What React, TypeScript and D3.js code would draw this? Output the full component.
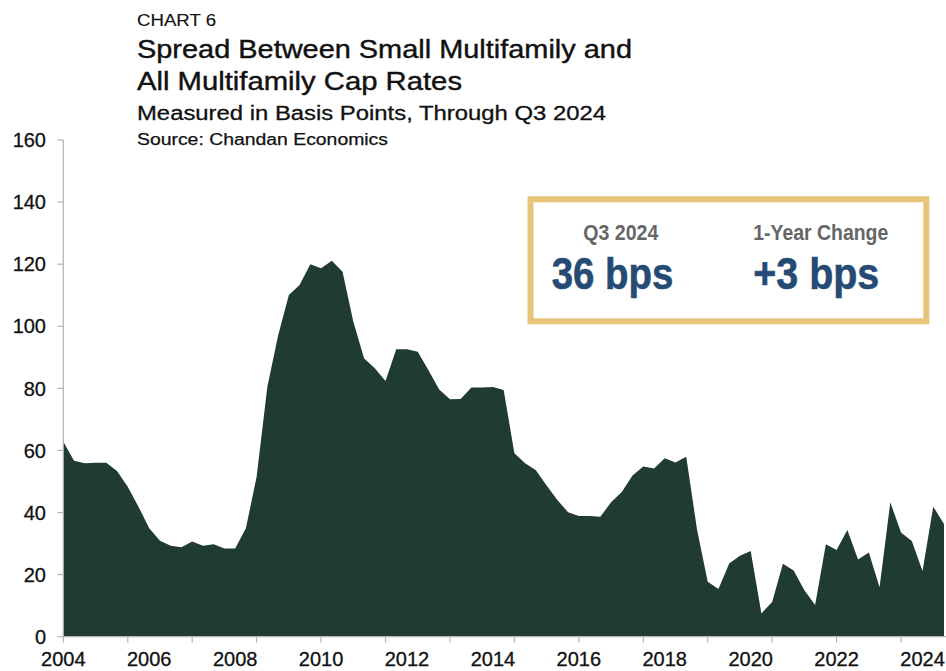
import React from "react";
import * as d3 from "d3";

const startYear = 2004;
const spreadBps: number[] = [
  62.8, 56.7, 55.9, 56, 56, 53.4, 48.3, 41.9, 34.9, 30.9,
  29.3, 28.8, 30.7, 29.3, 29.8, 28.4, 28.4, 34.9, 51.5, 80.5,
  97, 110.1, 113.3, 120, 118.7, 121.1, 117.6, 101.5, 89.7, 86.5,
  82.4, 92.6, 92.6, 91.8, 85.8, 79.6, 76.5, 76.6, 80.3, 80.3,
  80.4, 79.5, 59.1, 55.9, 53.6, 48.7, 44, 40.1, 38.9, 38.9,
  38.6, 43.3, 46.6, 51.9, 54.8, 54.2, 57.5, 56.1, 58.0, 34.6,
  17.7, 15.4, 23.6, 26.1, 27.6, 7.5, 11.2, 23.5, 21.3, 15.0,
  10.2, 29.8, 27.9, 34.4, 24.9, 27.1, 15.9, 43.3, 33.6, 30.8,
  21.2, 41.9, 36.3,
];
const yTicks = [0, 20, 40, 60, 80, 100, 120, 140, 160];
const yearLabels = [2004, 2006, 2008, 2010, 2012, 2014, 2016, 2018, 2020, 2022, 2024];
const tickEveryQuarters = 6;

const titleLines = ["Spread Between Small Multifamily and", "All Multifamily Cap Rates"];
const chartLabel = "CHART 6";
const subtitle = "Measured in Basis Points, Through Q3 2024";
const source = "Source: Chandan Economics";
const kpiLabels = ["Q3 2024", "1-Year Change"];
const kpiValues = ["36 bps", "+3 bps"];

const W = 946;
const H = 671;
const FONT = "'Liberation Sans', Arial, Helvetica, sans-serif";
const NARROW = "'Liberation Sans Narrow', 'Arial Narrow', 'Liberation Sans', Arial, sans-serif";

export default function App() {
  const n = spreadBps.length;
  const x = d3.scaleLinear().domain([0, n - 1]).range([63.3, 944]);
  const y = d3.scaleLinear().domain([0, 160]).range([636.7, 140]);

  const area = d3
    .area<number>()
    .x((_, i) => x(i))
    .y0(y(0))
    .y1((d) => y(d));

  const tickIdx = d3.range(0, n, tickEveryQuarters);

  return (
    <svg
      width={W}
      height={H}
      style={{ position: "absolute", left: 0, top: 0, background: "#fff" }}
    >
      <rect x={0} y={0} width={W} height={H} fill="#fff" />
      {/* Titles */}
      <g fontFamily={FONT} fill="#111">
        <text x={137} y={26} fontSize={16.5} textLength={79} lengthAdjust="spacingAndGlyphs" stroke="#111" strokeWidth={0.15}>
          {chartLabel}
        </text>
        <text x={137} y={58} fontSize={25} textLength={495} lengthAdjust="spacingAndGlyphs" stroke="#111" strokeWidth={0.4}>
          {titleLines[0]}
        </text>
        <text x={137} y={90} fontSize={25} textLength={325} lengthAdjust="spacingAndGlyphs" stroke="#111" strokeWidth={0.4}>
          {titleLines[1]}
        </text>
        <text x={137} y={120} fontSize={20} textLength={469} lengthAdjust="spacingAndGlyphs" stroke="#111" strokeWidth={0.3}>
          {subtitle}
        </text>
        <text x={137} y={145} fontSize={16} textLength={251} lengthAdjust="spacingAndGlyphs" stroke="#111" strokeWidth={0.25}>
          {source}
        </text>
      </g>

      {/* Area */}
      <path d={area(spreadBps) || ""} fill="#1f3b33" />

      {/* Y axis */}
      <g>
        <line x1={63.3} x2={63.3} y1={y(160)} y2={y(0)} stroke="#b3b3b3" strokeWidth={1.2} />
        {yTicks.map((t) => (
          <g key={t}>
            <line x1={57.5} x2={63.3} y1={y(t)} y2={y(t)} stroke="#b3b3b3" strokeWidth={1.2} />
            <text
              x={46}
              y={y(t)}
              dy="0.36em"
              textAnchor="end"
              fontFamily={FONT}
              fontSize={20}
              fill="#111"
              stroke="#111"
              strokeWidth={0.3}
            >
              {t}
            </text>
          </g>
        ))}
      </g>

      {/* X axis */}
      <g>
        <line x1={63.3} x2={946} y1={y(0)} y2={y(0)} stroke="#b3b3b3" strokeWidth={1.2} />
        {tickIdx.map((i) => (
          <line key={i} x1={x(i)} x2={x(i)} y1={y(0)} y2={y(0) + 6} stroke="#b3b3b3" strokeWidth={1.2} />
        ))}
        {yearLabels.map((yr) => (
          <text
            key={yr}
            x={x((yr - startYear) * 4)}
            y={666}
            textAnchor="middle"
            fontFamily={FONT}
            fontSize={20}
            fill="#111"
            stroke="#111"
            strokeWidth={0.3}
          >
            {yr}
          </text>
        ))}
      </g>

      {/* KPI box */}
      <rect x={530.5} y={199.3} width={395.8} height={122} fill="#fff" stroke="#e8c37a" strokeWidth={6} />
      <g fontFamily={NARROW} fontWeight="bold">
        <text x={583.3} y={239.5} fontSize={22} fill="#666" textLength={75} lengthAdjust="spacingAndGlyphs">
          {kpiLabels[0]}
        </text>
        <text x={753.3} y={239.5} fontSize={22} fill="#666" textLength={135} lengthAdjust="spacingAndGlyphs">
          {kpiLabels[1]}
        </text>
        <text x={551.7} y={288.5} fontSize={44} fill="#254b74" textLength={121.6} lengthAdjust="spacingAndGlyphs" stroke="#254b74" strokeWidth={0.6}>
          {kpiValues[0]}
        </text>
        <text x={753.3} y={288.5} fontSize={44} fill="#254b74" textLength={126} lengthAdjust="spacingAndGlyphs" stroke="#254b74" strokeWidth={0.6}>
          {kpiValues[1]}
        </text>
      </g>
    </svg>
  );
}
